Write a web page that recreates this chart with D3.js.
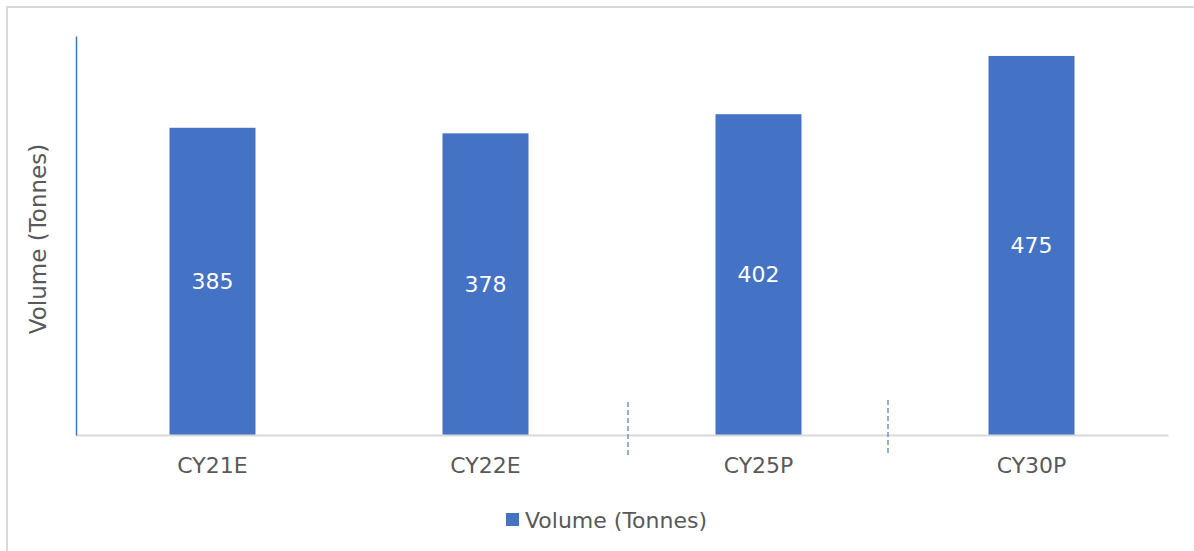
<!DOCTYPE html>
<html>
<head>
<meta charset="utf-8">
<script src="https://cdn.jsdelivr.net/npm/d3@7"></script>
<style>
  html, body { margin: 0; padding: 0; background: #ffffff; }
  svg { display: block; }
  text { font-family: "DejaVu Sans", sans-serif; }
</style>
</head>
<body>
<svg id="chart" width="1194" height="551"></svg>
<script>
const categories = ["CY21E", "CY22E", "CY25P", "CY30P"];
const volumes = [385, 378, 402, 475];
const seriesName = "Volume (Tonnes)";
const yTitle = "Volume (Tonnes)";
const separatorsAfter = ["CY22E", "CY25P"];

const W = 1194, H = 551;
const svg = d3.select("#chart");
const plot = { left: 76, right: 1168, top: 36, bottom: 435 };

// chart border (left + top only visible)
svg.append("rect").attr("x", 7).attr("y", 7).attr("width", W + 10).attr("height", H + 10)
  .attr("fill", "#fff").attr("stroke", "#d9d9d9").attr("stroke-width", 2);

const x = d3.scaleBand().domain(categories).range([plot.left, plot.right]).paddingInner(0.685).paddingOuter(0.3425);
const y = d3.scaleLinear().domain([0, 500]).range([plot.bottom, plot.top]);

// bars
svg.append("g").selectAll("rect").data(categories).join("rect")
  .attr("x", d => x(d))
  .attr("y", (d, i) => y(volumes[i]))
  .attr("width", x.bandwidth())
  .attr("height", (d, i) => y(0) - y(volumes[i]))
  .attr("fill", "#4472c4");

// x axis line
const xAxis = d3.axisBottom(x).tickSize(0).tickPadding(22);
const gx = svg.append("g").attr("transform", `translate(0,${plot.bottom})`).call(xAxis);
gx.select(".domain").attr("stroke", "#d9d9d9").attr("stroke-width", 2);
gx.selectAll("text").attr("font-size", 22).attr("fill", "#595959");

// y axis line
const yAxis = d3.axisLeft(y).tickValues([]).tickSize(0);
const gy = svg.append("g").attr("transform", `translate(${plot.left},0)`).call(yAxis);
gy.select(".domain").attr("stroke", "#4472c4").attr("stroke-width", 1.5);

// value labels
svg.append("g").selectAll("text").data(categories).join("text")
  .attr("x", d => x(d) + x.bandwidth() / 2)
  .attr("y", (d, i) => (y(volumes[i]) + y(0)) / 2)
  .attr("dy", "0.35em")
  .attr("text-anchor", "middle")
  .attr("font-size", 22)
  .attr("fill", "#ffffff")
  .text((d, i) => volumes[i]);

// dashed separators
const step = x.step();
const nudges = [6, -7];
const sepTops = [402, 400];
svg.append("g").selectAll("line").data(separatorsAfter).join("line")
  .attr("x1", (d, i) => x(d) + x.bandwidth() + (step - x.bandwidth()) / 2 + nudges[i])
  .attr("x2", (d, i) => x(d) + x.bandwidth() + (step - x.bandwidth()) / 2 + nudges[i])
  .attr("y1", (d, i) => sepTops[i])
  .attr("y2", (d, i) => sepTops[i] + 53)
  .attr("stroke", "#6f93d4")
  .attr("stroke-width", 1.5)
  .attr("stroke-dasharray", "5,3");

// y title
svg.append("text")
  .attr("transform", `translate(46,239) rotate(-90)`)
  .attr("text-anchor", "middle")
  .attr("font-size", 23)
  .attr("fill", "#595959")
  .text(yTitle);

// legend
const lg = svg.append("g").attr("transform", "translate(506,513)");
lg.append("rect").attr("width", 13).attr("height", 13).attr("fill", "#4472c4");
lg.append("text").attr("x", 19).attr("y", 7).attr("dy", "0.35em")
  .attr("font-size", 22).attr("fill", "#595959").text(seriesName);
</script>
</body>
</html>
